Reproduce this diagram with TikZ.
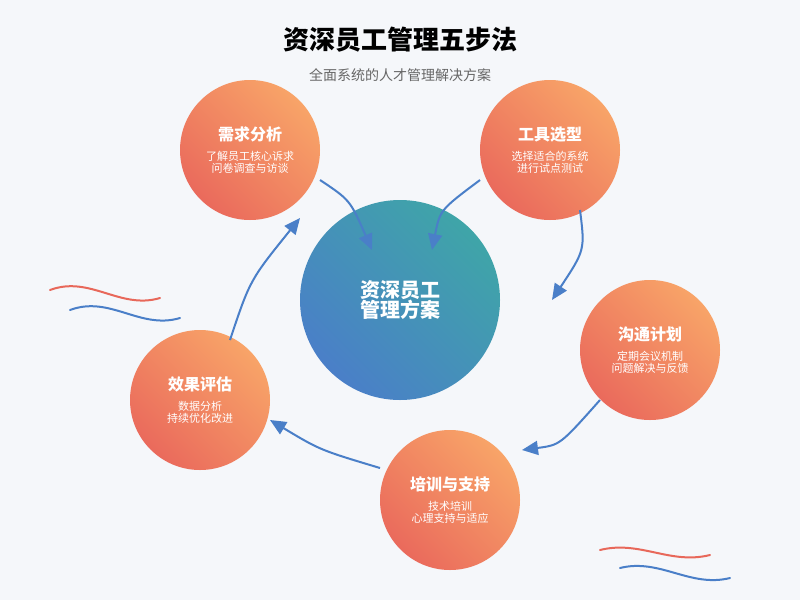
\documentclass[tikz,border=0pt]{standalone}
\usepackage{fontspec}
\setmainfont{Noto Sans CJK SC}
\usetikzlibrary{arrows.meta,positioning}
\definecolor{bgc}{HTML}{F5F7FA}
\definecolor{redA}{HTML}{EA6A5C}
\definecolor{orgA}{HTML}{F8A468}
\definecolor{bluA}{HTML}{4A7FC8}
\definecolor{tealA}{HTML}{3FA5A8}
\definecolor{waveR}{HTML}{E8685A}
\tikzset{
  step circle/.style={circle,minimum size=140pt,inner sep=0pt,align=center,text=white,
    left color=redA,right color=orgA,shading angle=135},
  flow/.style={draw=bluA,line width=2pt,-{Triangle[length=16pt,width=14pt]}},
  wave/.style={line width=2pt,line cap=round}
}
\newcommand{\stepname}[3]{{\fontsize{16}{20}\selectfont\bfseries #1}\\[8pt]{\fontsize{11}{20}\selectfont #2}\\{\fontsize{11}{20}\selectfont #3}}
\begin{document}
\begin{tikzpicture}[x=1pt,y=-1pt]
  \fill[bgc] (0,0) rectangle (800,600);
  \useasboundingbox (0,0) rectangle (800,600);
  % title
  \node (title) at (400,40) {\fontsize{26}{30}\selectfont\bfseries 资深员工管理五步法};
  \node[text=black!60] (subtitle) at (400,75) {\fontsize{14}{18}\selectfont 全面系统的人才管理解决方案};
  % center
  \node[circle,minimum size=200pt,inner sep=0pt,align=center,text=white,
    left color=bluA,right color=tealA,shading angle=135] (core) at (400,300)
    {\fontsize{20}{30}\selectfont\bfseries 资深员工\\\fontsize{20}{30}\selectfont\bfseries 管理方案};
  % steps
  \node[step circle] (s1) at (250,150) {\stepname{需求分析}{了解员工核心诉求}{问卷调查与访谈}};
  \node[step circle] (s2) at (550,150) {\stepname{工具选型}{选择适合的系统}{进行试点测试}};
  \node[step circle] (s3) at (650,350) {\stepname{沟通计划}{定期会议机制}{问题解决与反馈}};
  \node[step circle] (s4) at (450,500) {\stepname{培训与支持}{技术培训}{心理支持与适应}};
  \node[step circle] (s5) at (200,400) {\stepname{效果评估}{数据分析}{持续优化改进}};
  % connectors
  \coordinate (a1) at (320,180); \coordinate (b1) at (372,250);
  \coordinate (a2) at (480,180); \coordinate (b2) at (432,250);
  \coordinate (a3) at (580,210); \coordinate (b3) at (552,300);
  \coordinate (a4) at (600,400); \coordinate (b4) at (522,450);
  \coordinate (a5) at (380,468); \coordinate (b5) at (270,420);
  \coordinate (a6) at (230,340); \coordinate (b6) at (300,218);
  \draw[flow] (a1) .. controls (350,200) .. (b1);
  \draw[flow] (a2) .. controls (440,210) .. (b2);
  \draw[flow] (a3) .. controls (585,250) .. (b3);
  \draw[flow] (a4) .. controls (560,445) .. (b4);
  \draw[flow] (a5) .. controls (320,450) .. (b5);
  \draw[flow] (a6) .. controls (250,280) .. (b6);
  % waves
  \draw[wave,waveR] (50,290) .. controls (90,275) and (120,310) .. (160,298);
  \draw[wave,bluA] (70,310) .. controls (110,295) and (140,330) .. (180,318);
  \draw[wave,waveR] (600,550) .. controls (640,540) and (670,565) .. (710,555);
  \draw[wave,bluA] (620,568) .. controls (660,558) and (690,588) .. (730,578);
\end{tikzpicture}
\end{document}
